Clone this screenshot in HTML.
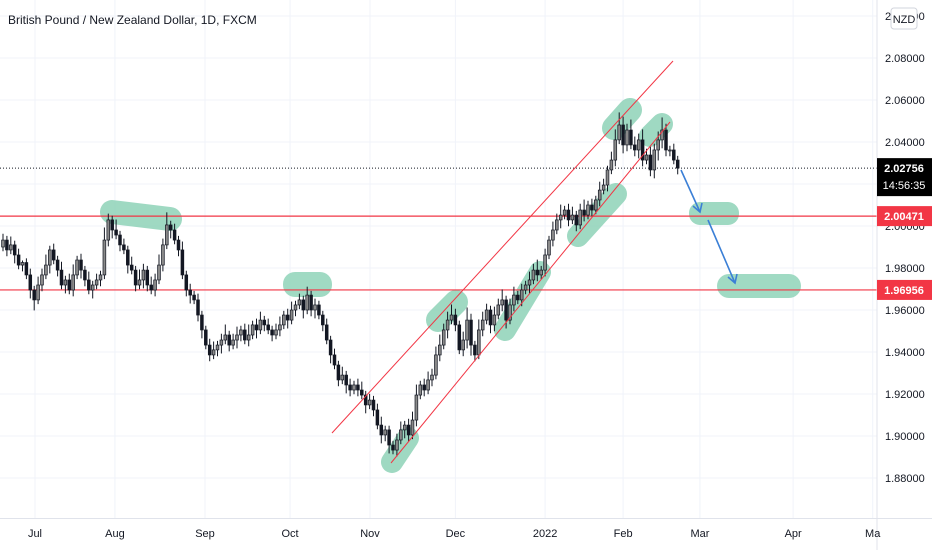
<!DOCTYPE html>
<html><head><meta charset="utf-8">
<style>
html,body{margin:0;padding:0;background:#fff;}
svg{display:block;font-family:"Liberation Sans",sans-serif;}
</style></head>
<body>
<svg id="chart" width="932" height="550" viewBox="0 0 932 550" xmlns="http://www.w3.org/2000/svg">
<rect width="932" height="550" fill="#fff"/>
<g id="grid"></g>
<g id="highlights" opacity="0.85">
 <line x1="112" y1="212" x2="170" y2="219" stroke="#8fd3b8" stroke-width="24" stroke-linecap="round"/>
 <rect x="283" y="272" width="49" height="25" rx="12" fill="#8fd3b8"/>
 <line x1="438" y1="320" x2="456" y2="302" stroke="#8fd3b8" stroke-width="24" stroke-linecap="round"/>
 <line x1="392" y1="462" x2="408" y2="438" stroke="#8fd3b8" stroke-width="22" stroke-linecap="round"/>
 <line x1="505" y1="330" x2="540" y2="272" stroke="#8fd3b8" stroke-width="22" stroke-linecap="round"/>
 <line x1="578" y1="236" x2="616" y2="194" stroke="#8fd3b8" stroke-width="22" stroke-linecap="round"/>
 <line x1="614" y1="128" x2="630" y2="110" stroke="#8fd3b8" stroke-width="24" stroke-linecap="round"/>
 <line x1="650" y1="136" x2="662" y2="124" stroke="#8fd3b8" stroke-width="22" stroke-linecap="round"/>
 <rect x="689" y="202" width="50" height="23" rx="11" fill="#8fd3b8"/>
 <rect x="717" y="274" width="84" height="24" rx="12" fill="#8fd3b8"/>
</g>
<g id="levels"></g>
<g id="candles"></g>
<g id="drawings">
 <line x1="332" y1="433" x2="673" y2="61" stroke="#f23645" stroke-width="1"/>
 <line x1="391" y1="463" x2="670" y2="122" stroke="#f23645" stroke-width="1"/>
 <g stroke="#3b7fd6" stroke-width="1.6" fill="none">
  <line x1="681" y1="170" x2="700" y2="212"/><polyline points="693,206 700,212 702,203"/>
 </g>
 <g stroke="#3b7fd6" stroke-width="1.6" fill="none">
  <line x1="708" y1="220" x2="735" y2="283"/><polyline points="728,277 735,283 737,274"/>
 </g>
</g>
<rect x="877" y="0" width="55" height="518" fill="#fff"/>
<line x1="877" y1="0" x2="877" y2="550" stroke="#e0e3eb"/>
<line x1="0" y1="518.5" x2="932" y2="518.5" stroke="#e0e3eb"/>
<g id="yaxis" font-size="11" fill="#131722"></g>
<g id="xaxis" font-size="11" fill="#131722"></g>
<g id="tags"></g>
<rect x="891" y="8" width="26" height="21" rx="3" fill="#fff" stroke="#d1d4dc"/>
<text x="904" y="23" font-size="11" text-anchor="middle" fill="#131722">NZD</text>
<text x="8" y="24" font-size="12" fill="#131722">British Pound / New Zealand Dollar, 1D, FXCM</text>
</svg>
<script>
const closes=[1.9933,1.9886,1.9910,1.9862,1.9814,1.9826,1.9767,1.9695,1.9648,1.9719,
1.9767,1.9814,1.9886,1.9838,1.9790,1.9719,1.9743,1.9695,1.9767,1.9838,
1.9790,1.9743,1.9695,1.9719,1.9743,1.9767,1.9933,2.0029,1.9981,1.9957,
1.9910,1.9886,1.9814,1.9790,1.9719,1.9743,1.9790,1.9719,1.9695,1.9743,
1.9814,1.9910,2.0005,1.9981,1.9933,1.9886,1.9767,1.9695,1.9671,1.9648,
1.9576,1.9505,1.9433,1.9386,1.9410,1.9433,1.9457,1.9481,1.9433,1.9457,
1.9481,1.9505,1.9457,1.9481,1.9529,1.9505,1.9552,1.9529,1.9505,1.9481,
1.9505,1.9529,1.9576,1.9552,1.9600,1.9624,1.9648,1.9600,1.9671,1.9600,
1.9624,1.9576,1.9529,1.9457,1.9386,1.9338,1.9267,1.9290,1.9243,1.9219,
1.9243,1.9219,1.9195,1.9148,1.9171,1.9124,1.9052,1.9005,1.9029,1.8957,
1.8933,1.8981,1.9029,1.9052,1.9005,1.9076,1.9195,1.9243,1.9219,1.9267,
1.9290,1.9386,1.9433,1.9505,1.9552,1.9576,1.9529,1.9410,1.9457,1.9552,
1.9433,1.9386,1.9505,1.9552,1.9600,1.9529,1.9576,1.9624,1.9648,1.9552,
1.9624,1.9671,1.9648,1.9695,1.9719,1.9743,1.9790,1.9767,1.9790,1.9862,
1.9933,1.9981,2.0029,2.0052,2.0076,2.0029,2.0052,2.0005,2.0076,2.0052,
2.0100,2.0076,2.0124,2.0171,2.0195,2.0267,2.0314,2.0410,2.0481,2.0386,
2.0457,2.0386,2.0362,2.0410,2.0314,2.0338,2.0267,2.0362,2.0410,2.0457,
2.0362,2.0362,2.0314,2.0276];
const wickUp=[3,2,4,2,3,1,2,3,2,4,3,5,2,3,2,4,2,3,5,2,3,2,4,2,3,2,6,3,2,5,
2,3,2,4,2,5,3,2,4,3,5,3,6,2,3,2,4,2,3,2,3,2,2,3,4,2,3,5,2,3,4,2,3,5,2,3,4,2,3,2,
3,4,2,3,4,2,3,2,4,2,3,2,2,3,2,3,2,4,2,3,2,3,4,2,3,2,3,4,2,2,2,3,4,2,3,4,5,2,3,4,
3,4,5,3,4,5,3,2,4,6,3,2,5,4,3,2,4,3,5,2,3,4,2,3,2,4,3,5,2,3,2,4,3,5,2,3,4,2,3,5,
2,3,2,4,3,2,4,5,6,4,3,5,4,3,5,3,4,3,4,6,3,2,3,2];
const wickDn=[2,3,2,4,2,3,2,4,5,2,3,2,4,2,3,2,4,2,3,2,4,3,2,4,2,3,2,3,4,2,
3,2,4,2,3,2,4,3,2,3,2,3,2,4,2,3,2,3,4,2,3,4,2,3,2,3,4,2,3,2,4,3,2,3,2,4,2,3,2,3,
2,3,2,4,2,3,2,4,2,3,4,2,3,2,4,2,3,2,4,3,2,3,2,4,2,3,2,4,3,4,2,3,2,4,3,2,3,2,3,2,
3,2,3,2,4,2,3,2,3,4,5,3,2,3,2,4,3,2,3,4,2,3,2,3,2,4,2,3,2,3,2,3,2,4,2,3,2,3,2,3,
2,3,2,3,2,3,2,3,2,4,3,2,3,4,3,2,3,4,5,4,3,3,2,3];
const priceTicks=[2.10,2.08,2.06,2.04,2.02,2.00,1.98,1.96,1.94,1.92,1.90,1.88];
const monthLabels=["Jul","Aug","Sep","Oct","Nov","Dec","2022","Feb","Mar","Apr","Ma"];
const monthIndex=[8.2,28.7,51.8,73.6,94.1,116,139,159,178.7,202.6,223];
const levelValues=[2.00471,1.96956];
const lastPrice=2.02756;

const NS="http://www.w3.org/2000/svg";
function y(p){return 58+(2.08-p)*2100;}
function x(i){return 3+i*3.9;}
function mk(tag,attrs,parent){const e=document.createElementNS(NS,tag);for(const k in attrs)e.setAttribute(k,attrs[k]);parent.appendChild(e);return e;}
const grid=document.getElementById('grid'),cg=document.getElementById('candles'),ya=document.getElementById('yaxis'),xa=document.getElementById('xaxis'),lv=document.getElementById('levels'),tg=document.getElementById('tags');

priceTicks.forEach(p=>{
 const gl=mk('line',{x1:0,x2:877,y1:y(p),y2:y(p),stroke:'#f0f3fa'},grid);
 
 
 const t=mk('text',{x:885,y:y(p)+4},ya);
 t.textContent=p.toFixed(5);
 
 
});
monthLabels.forEach((m,k)=>{
 const xx=x(monthIndex[k]);
 const gl=mk('line',{x1:xx,x2:xx,y1:0,y2:518,stroke:'#f0f3fa'},grid);
 
 
 const t=mk('text',{x:xx,y:537,'text-anchor':'middle'},xa);
 t.textContent=m;
 
 
});
levelValues.forEach(v=>{
 const l=mk('line',{x1:0,x2:877,y1:y(v),y2:y(v),stroke:'#f23645','stroke-width':1.2},lv);
 
 
});
const dl=mk('line',{x1:0,x2:877,y1:y(lastPrice),y2:y(lastPrice),stroke:'#131722','stroke-dasharray':'1,2'},lv);



closes.forEach((c,i)=>{
 const o=i===0?1.9900:closes[i-1];
 const hi=Math.max(o,c)+wickUp[i]*0.001, lo=Math.min(o,c)-wickDn[i]*0.001;
 const g=mk('g',{},cg);
 
 
 const cx=x(i);
 mk('line',{x1:cx,x2:cx,y1:y(hi),y2:y(lo),stroke:'#131722','stroke-width':1},g);
 const top=y(Math.max(o,c)),h=Math.max(1,Math.abs(y(o)-y(c)));
 mk('rect',{x:cx-1.4,y:top,width:2.8,height:h,fill:c>=o?'#8a8a8a':'#131722',stroke:'#131722','stroke-width':0.7},g);
});

function tag(val,fill,lines,nm){
 const yy=y(val);
 const h=lines.length>1?38:20;
 const r=mk('rect',{x:877,y:yy-10,width:55,height:h,fill:fill},tg);
 
 
 lines.forEach((s,k)=>{
  const t=mk('text',{x:904,y:yy+4+k*17,'text-anchor':'middle','font-size':11,fill:'#fff','font-weight':k===0?'bold':'normal'},tg);
  t.textContent=s;
  
  
 });
}
tag(lastPrice,'#000',[lastPrice.toFixed(5),'14:56:35'],'last-price-tag');
tag(levelValues[0],'#f23645',[levelValues[0].toFixed(5)],'level-tag-upper');
tag(levelValues[1],'#f23645',[levelValues[1].toFixed(5)],'level-tag-lower');
</script>
</body></html>
